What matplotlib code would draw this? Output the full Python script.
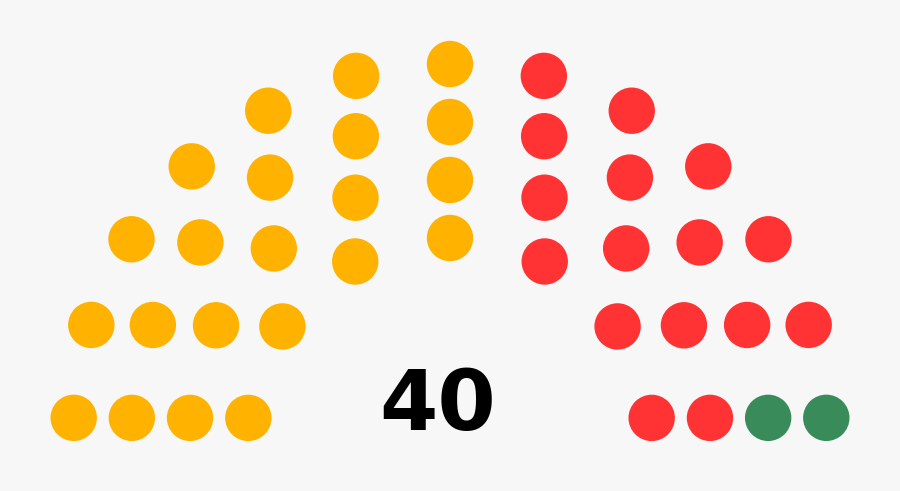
import math
import matplotlib
matplotlib.use("Agg")
import matplotlib.pyplot as plt
from matplotlib.patches import Circle

# party seats, left to right
parties = ["Orange", "Red", "Green"]
seats = [22, 16, 2]
colors = ["#FFB300", "#FF3333", "#3A8B5A"]
total_label = "40"

# seats that fit in n rows (parliament diagram tool table)
row_totals = [0, 3, 15, 33, 61, 95, 138, 189, 247, 313]


def seat_positions(n):
    rows = next(i for i in range(1, len(row_totals)) if row_totals[i] >= n)
    rad = 0.4 / rows
    pos = []
    for i in range(1, rows):
        R = (3.0 * rows + 4.0 * i - 2.0) / (4.0 * rows)
        J = int(float(n) / row_totals[rows] * math.pi /
                (2 * math.asin(2.0 / (3.0 * rows + 4.0 * i - 2.0))))
        off = math.sin(rad / R)
        for j in range(J):
            a = j * (math.pi - 2 * off) / (J - 1) + off
            pos.append((a, R * math.cos(a), R * math.sin(a)))
    # rest goes into the outer row
    R = (7.0 * rows - 2.0) / (4.0 * rows)
    J = n - len(pos)
    off = math.sin(rad / R)
    for j in range(J):
        a = j * (math.pi - 2 * off) / (J - 1) + off
        pos.append((a, R * math.cos(a), R * math.sin(a)))
    pos.sort(reverse=True)
    return pos, rad


pos, rad = seat_positions(sum(seats))

fig = plt.figure(figsize=(9, 4.91), dpi=100)
fig.patch.set_facecolor("#F7F7F7")
ax = fig.add_axes([0, 0, 1, 1])
ax.set_facecolor("#F7F7F7")

scale = 232.0  # px per unit
cy = 441  # centre of the arcs, px from top
ax.set_xlim(-450 / scale, 450 / scale)
ax.set_ylim(-(491 - cy) / scale, cy / scale)
ax.set_aspect("equal")
ax.axis("off")

k = 0
for name, n, c in zip(parties, seats, colors):
    for _ in range(n):
        _, x, y = pos[k]
        ax.add_patch(Circle((x, y), rad, color=c, lw=0))
        k += 1

ax.text(-12 / scale, -(430 - cy) / scale, total_label, ha="center",
        va="baseline", fontsize=60.5, fontweight="bold", color="black",
        family="DejaVu Sans")

fig.savefig("out.png", dpi=100, facecolor=fig.get_facecolor())
